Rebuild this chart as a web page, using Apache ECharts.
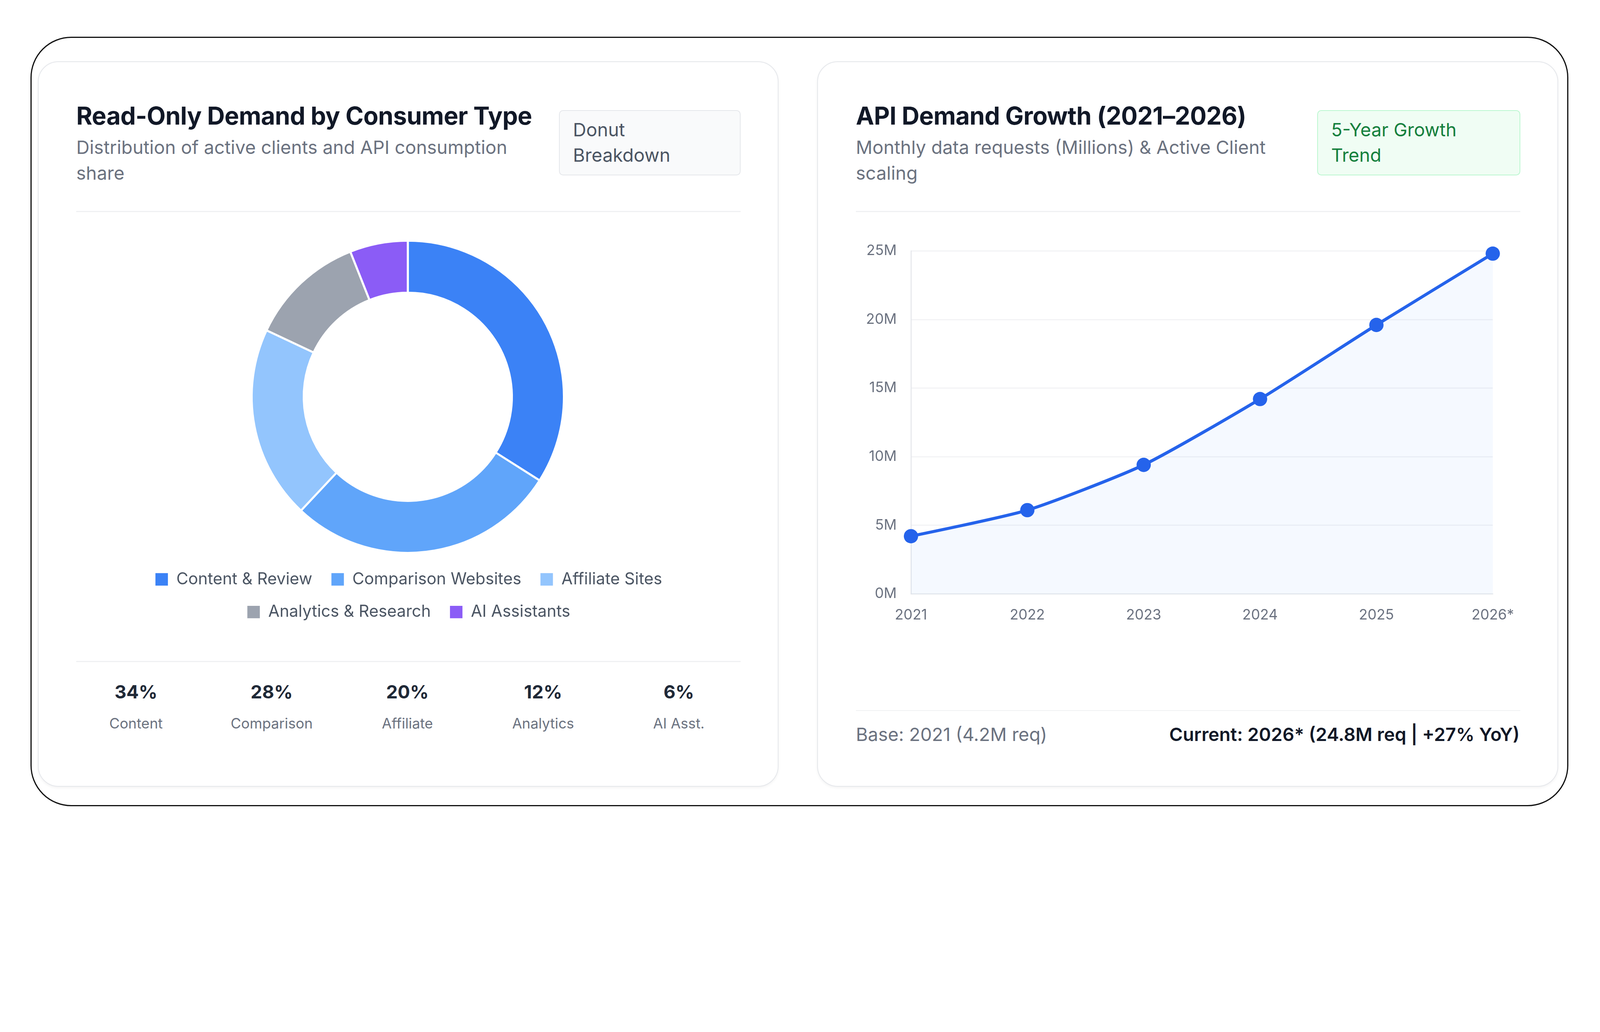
<!DOCTYPE html>
<html>
<head>
<meta charset="utf-8">
<script src="https://cdn.jsdelivr.net/npm/echarts@6/dist/echarts.min.js"></script>
<style>
:root { --s: 3.2; }
html, body { margin: 0; padding: 0; background: #fff; font-family: Inter, "Noto Sans", sans-serif; overflow: hidden; }
.frame { position: absolute; left: calc(30px * var(--s)); top: calc(36px * var(--s)); width: calc(1507px * var(--s)); height: calc(754px * var(--s));
  border: calc(1.3px * var(--s)) solid #111; border-radius: calc(40px * var(--s)); box-sizing: border-box; }
.card { position: absolute; top: calc(60px * var(--s)); width: calc(726px * var(--s)); height: calc(711px * var(--s)); box-sizing: border-box;
  border: calc(1px * var(--s)) solid #e5e7eb; border-radius: calc(20px * var(--s)); background: #fff; box-shadow: 0 calc(1px * var(--s)) calc(3px * var(--s)) rgba(0,0,0,0.05); }
.abs { position: absolute; }
.title { left: calc(37px * var(--s)); top: calc(38px * var(--s)); font-size: calc(24px * var(--s)); font-weight: 700; color: #111827; white-space: nowrap; letter-spacing: -0.01em; }
.sub { left: calc(37px * var(--s)); top: calc(71px * var(--s)); width: calc(440px * var(--s)); font-size: calc(18px * var(--s)); line-height: calc(25px * var(--s)); color: #6b7280; }
.badge { top: calc(47px * var(--s)); height: calc(64px * var(--s)); box-sizing: border-box; padding: calc(6px * var(--s)) calc(13px * var(--s));
  font-size: calc(18px * var(--s)); line-height: calc(25px * var(--s)); border-radius: calc(4px * var(--s)); }
.hr { left: calc(37px * var(--s)); width: calc(651px * var(--s)); height: calc(1px * var(--s)); background: #f0f1f3; }
.stat { width: calc(133px * var(--s)); text-align: center; }
.stat .v { font-size: calc(18px * var(--s)); font-weight: 700; color: #1f2937; }
.stat .l { font-size: calc(14px * var(--s)); color: #6b7280; margin-top: calc(12px * var(--s)); }
.foot { top: calc(648px * var(--s)); font-size: calc(18px * var(--s)); }
</style>
</head>
<body>
<div class="frame"></div>

<div class="card" style="left: calc(37px * var(--s));">
  <div class="abs title">Read-Only Demand by Consumer Type</div>
  <div class="abs sub">Distribution of active clients and API consumption share</div>
  <div class="abs badge" style="left: calc(510px * var(--s)); width: calc(178px * var(--s)); background:#f9fafb; border: calc(1px * var(--s)) solid #e5e7eb; color:#4b5563;">Donut<br>Breakdown</div>
  <div class="abs hr" style="top: calc(146px * var(--s));"></div>
  <div id="donut" class="abs" style="left: calc(37px * var(--s)); top: calc(147px * var(--s)); width: calc(651px * var(--s)); height: calc(440px * var(--s));"></div>
  <div class="abs hr" style="top: calc(587px * var(--s));"></div>
  <div id="stats"></div>
</div>

<div class="card" style="left: calc(801px * var(--s));">
  <div class="abs title">API Demand Growth (2021–2026)</div>
  <div class="abs sub" style="width: calc(420px * var(--s));">Monthly data requests (Millions) &amp; Active Client scaling</div>
  <div class="abs badge" style="left: calc(489px * var(--s)); width: calc(199px * var(--s)); background:#f0fdf4; border: calc(1px * var(--s)) solid #bbf7d0; color:#15803d;">5-Year Growth<br>Trend</div>
  <div class="abs hr" style="top: calc(146px * var(--s));"></div>
  <div id="line" class="abs" style="left: calc(37px * var(--s)); top: calc(147px * var(--s)); width: calc(651px * var(--s)); height: calc(488px * var(--s));"></div>
  <div class="abs hr" style="top: calc(635px * var(--s));"></div>
  <div class="abs foot" style="left: calc(37px * var(--s)); color:#6b7280;">Base: 2021 (4.2M req)</div>
  <div class="abs foot" style="right: calc(37px * var(--s)); color:#111827; font-weight:600;">Current: 2026* (24.8M req | +27% YoY)</div>
</div>

<script>
// scale the 1568-wide layout to the real window
var S = window.innerWidth / 1568;
document.documentElement.style.setProperty('--s', S);
function px(n) { return n * S; }

var segNames = ['Content & Review', 'Comparison Websites', 'Affiliate Sites', 'Analytics & Research', 'AI Assistants'];
var segValues = [34, 28, 20, 12, 6];
var segColors = ['#3b82f6', '#60a5fa', '#93c5fd', '#9ca3af', '#8b5cf6'];
var statLabels = ['Content', 'Comparison', 'Affiliate', 'Analytics', 'AI Asst.'];

var years = ['2021', '2022', '2023', '2024', '2025', '2026*'];
var requests = [4.2, 6.1, 9.4, 14.2, 19.6, 24.8];

// stats row under the donut
var html = '';
for (var i = 0; i < segValues.length; i++) {
	html += '<div class="abs stat" style="left:' + px(37 + i * 133 - 8) + 'px; top:' + px(606) + 'px;">' +
		'<div class="v">' + segValues[i] + '%</div><div class="l">' + statLabels[i] + '</div></div>';
}
document.getElementById('stats').innerHTML = html;

var pieData = [];
for (var i = 0; i < segNames.length; i++) {
	pieData.push({ name: segNames[i], value: segValues[i], itemStyle: { color: segColors[i] } });
}
var donut = echarts.init(document.getElementById('donut'));
donut.setOption({
	animation: false,
	legend: [{
		left: 'center', top: px(350),
		itemWidth: px(13), itemHeight: px(13), itemGap: px(18),
		icon: 'rect',
		textStyle: { fontSize: px(16), color: '#4b5563', fontFamily: 'Inter', padding: [0, 0, 0, px(6)] },
		data: segNames.slice(0, 3)
	}, {
		left: 'center', top: px(382),
		itemWidth: px(13), itemHeight: px(13), itemGap: px(18),
		icon: 'rect',
		textStyle: { fontSize: px(16), color: '#4b5563', fontFamily: 'Inter', padding: [0, 0, 0, px(6)] },
		data: segNames.slice(3)
	}],
	series: [{
		type: 'pie',
		center: [px(325), px(181)],
		radius: [px(102), px(153)],
		startAngle: 90,
		label: { show: false },
		labelLine: { show: false },
		itemStyle: { borderColor: '#fff', borderWidth: px(2) },
		data: pieData
	}]
});

var line = echarts.init(document.getElementById('line'));
line.setOption({
	animation: false,
	grid: { left: px(54), right: px(27), top: px(38), bottom: px(114) },
	xAxis: {
		type: 'category', data: years, boundaryGap: false,
		axisLine: { lineStyle: { color: '#e5e7eb', width: px(1) } },
		axisTick: { show: false },
		splitLine: { show: false },
		axisLabel: { fontSize: px(14), color: '#6b7280', margin: px(14), fontFamily: 'Inter' }
	},
	yAxis: {
		type: 'value', min: 0, max: 25, interval: 5,
		axisLine: { show: true, lineStyle: { color: '#e5e7eb', width: px(1) } },
		axisLabel: { fontSize: px(14), color: '#6b7280', margin: px(14), fontFamily: 'Inter', formatter: '{value}M' },
		splitLine: { lineStyle: { color: '#f0f1f3', width: px(1) } }
	},
	series: [{
		type: 'line', data: requests, smooth: 0.2,
		symbol: 'circle', symbolSize: px(14),
		lineStyle: { color: '#2563eb', width: px(3) },
		itemStyle: { color: '#2563eb' },
		areaStyle: { color: 'rgba(59,130,246,0.07)' }
	}]
});
</script>
</body>
</html>
